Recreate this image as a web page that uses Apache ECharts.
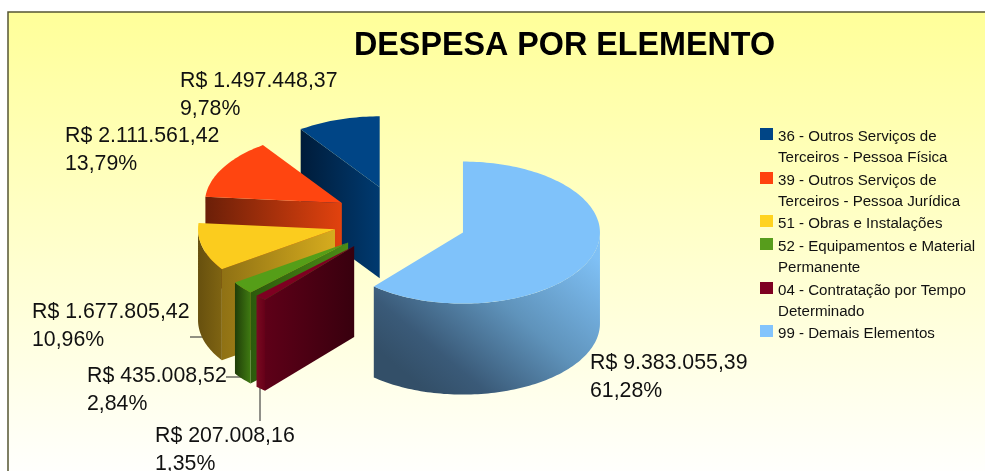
<!DOCTYPE html>
<html>
<head>
    <meta charset="utf-8">
    <script src="https://cdn.jsdelivr.net/npm/echarts@6/dist/echarts.min.js"></script>
    <style>
        html, body { margin: 0; background: #fff; }
    </style>
</head>
<body>
<div id="main" style="width: 985px;height:471px;"></div>
<script type="text/javascript">
    // data, in legend order
    const categories = [
        ['36 - Outros Serviços de', 'Terceiros - Pessoa Física'],
        ['39 - Outros Serviços de', 'Terceiros - Pessoa Jurídica'],
        ['51 - Obras e Instalações'],
        ['52 - Equipamentos e Material', 'Permanente'],
        ['04 - Contratação por Tempo', 'Determinado'],
        ['99 - Demais Elementos']
    ];
    const values = [1497448.37, 2111561.42, 1677805.42, 435008.52, 207008.16, 9383055.39];
    const percents = ['9,78%', '13,79%', '10,96%', '2,84%', '1,35%', '61,28%'];
    // clockwise order on the pie, from 12 o'clock (indexes into the lists above)
    const pieOrder = [5, 4, 3, 2, 1, 0];

    // styles
    const colors = ['#004586', '#ff420e', '#ffd320', '#579d1c', '#7e0021', '#83c4fc'];
    const topColors = ['#004586', '#ff4510', '#fbcc1e', '#559e18', '#7e0021', '#7fc2fa'];
    const wallColors = [
        ['#001f3f', '#003366'],
        ['#5e1a06', '#a02c08'],
        ['#67500e', '#7f6412'],
        ['#1f3d08', '#3f7a12'],
        ['#7a0a22', '#660018'],
        ['#3a5a78', '#7fc0f5']
    ];
    const faceColors = [
        ['#001c3a', '#003a70'],
        ['#6b1f08', '#e2420e'],
        ['#8f7114', '#d6ac1e'],
        ['#2c5a0c', '#4c8c16'],
        ['#5e0018', '#38000e'],
        ['#3a5a78', '#3a5a78']
    ];

    // pie layout
    const cx = 400, cy = 220.5, rx = 137, ry = 71, depth = 91, explode = 0.49;
    const labelFont = '21.3px "Liberation Sans"';
    const labelPos = [[180, 67.5], [65, 122.5], [32, 298.5], [87, 362.5], [155, 422.5], [590, 349.5]];
    const leaders = [null, null, [[190, 337], [203, 337]], [[226, 377], [242, 377]], [[260, 386], [260, 421]], null];
    const legendY = [128, 172, 215, 238, 282, 325];

    const total = values.reduce(function (a, b) { return a + b; }, 0);
    const angles = {};
    let running = 0;
    pieOrder.forEach(function (idx) {
        const start = running / total * Math.PI * 2;
        running += values[idx];
        angles[idx] = [start, running / total * Math.PI * 2];
    });

    function money(v) {
        const parts = v.toFixed(2).split('.');
        return 'R$ ' + parts[0].replace(/\B(?=(\d{3})+$)/g, '.') + ',' + parts[1];
    }

    function hGrad(pair) {
        return new echarts.graphic.LinearGradient(0, 0, 1, 0, [
            {offset: 0, color: pair[0]},
            {offset: 1, color: pair[1]}
        ]);
    }

    function renderSlice(params, api) {
        const i = params.dataIndex;
        const a0 = angles[i][0], a1 = angles[i][1];
        const mid = (a0 + a1) / 2;
        const ox = cx + Math.sin(mid) * rx * explode;
        const oy = cy - Math.cos(mid) * ry * explode;
        const at = function (a, down) {
            return [ox + Math.sin(a) * rx, oy - Math.cos(a) * ry + (down || 0)];
        };
        const arc = function (from, to, down) {
            const pts = [];
            const n = Math.max(2, Math.ceil((to - from) * 40));
            for (let k = 0; k <= n; k++) {
                pts.push(at(from + (to - from) * k / n, down));
            }
            return pts;
        };
        const children = [];

        if (leaders[i]) {
            children.push({
                type: 'line',
                shape: {x1: leaders[i][0][0], y1: leaders[i][0][1], x2: leaders[i][1][0], y2: leaders[i][1][1]},
                style: {stroke: '#222', lineWidth: 1}
            });
        }

        // radial face at the start angle, only when it looks to the viewer
        if (Math.sin(a0) < -0.001) {
            children.push({
                type: 'polygon',
                shape: {points: [[ox, oy], at(a0), at(a0, depth), [ox, oy + depth]]},
                style: {fill: hGrad(faceColors[i])}
            });
        }
        // radial face at the end angle
        if (Math.sin(a1) > 0.001) {
            children.push({
                type: 'polygon',
                shape: {points: [[ox, oy], at(a1), at(a1, depth), [ox, oy + depth]]},
                style: {fill: hGrad(faceColors[i])}
            });
        }
        // outer wall, front half only
        const w0 = Math.max(a0, Math.PI / 2), w1 = Math.min(a1, Math.PI * 1.5);
        if (w1 > w0) {
            const wallFill = i === 5
                ? new echarts.graphic.LinearGradient(0.25, 1, 0.85, 0, [
                    {offset: 0, color: '#334f68'},
                    {offset: 0.18, color: '#3a5a78'},
                    {offset: 0.55, color: '#5f93bb'},
                    {offset: 1, color: '#7fc0f5'}
                ])
                : hGrad(wallColors[i]);
            children.push({
                type: 'polygon',
                shape: {points: arc(w0, w1, 0).concat(arc(w0, w1, depth).reverse())},
                style: {fill: wallFill}
            });
        }
        // top face
        children.push({
            type: 'polygon',
            shape: {points: [[ox, oy]].concat(arc(a0, a1, 0))},
            style: {fill: topColors[i]}
        });
        // value label
        children.push({
            type: 'text',
            style: {
                text: money(api.value(0)) + '\n' + percents[i],
                x: labelPos[i][0],
                y: labelPos[i][1],
                font: labelFont,
                lineHeight: 27.5,
                fill: '#111'
            }
        });
        return {type: 'group', children: children};
    }

    // background panel and legend
    const graphics = [{
        type: 'rect',
        z: -10,
        shape: {x: 8, y: 12, width: 990, height: 470},
        style: {
            fill: new echarts.graphic.LinearGradient(0, 0, 0, 1, [
                {offset: 0, color: '#ffff99'},
                {offset: 1, color: '#ffffff'}
            ]),
            stroke: '#555533',
            lineWidth: 1.5
        }
    }];
    categories.forEach(function (lines, i) {
        graphics.push({
            type: 'rect',
            shape: {x: 760, y: legendY[i], width: 13, height: 12},
            style: {fill: colors[i]}
        });
        graphics.push({
            type: 'text',
            style: {
                text: lines.join('\n'),
                x: 778,
                y: legendY[i] - 2,
                font: '15.1px "Liberation Sans"',
                lineHeight: 21.5,
                fill: '#111'
            }
        });
    });

    const myChart = echarts.init(document.getElementById('main'));
    const option = {
        animation: false,
        backgroundColor: '#ffffff',
        title: {
            text: 'DESPESA POR ELEMENTO',
            left: 354,
            top: 30,
            padding: 0,
            textStyle: {
                fontFamily: 'Liberation Sans',
                fontSize: 32.3,
                fontWeight: 'bold',
                color: '#000'
            }
        },
        graphic: graphics,
        series: [{
            type: 'custom',
            coordinateSystem: 'none',
            silent: true,
            renderItem: renderSlice,
            data: values.map(function (v, i) {
                return {name: categories[i].join(' '), value: v};
            })
        }]
    };
    myChart.setOption(option);
</script>
</body>
</html>
